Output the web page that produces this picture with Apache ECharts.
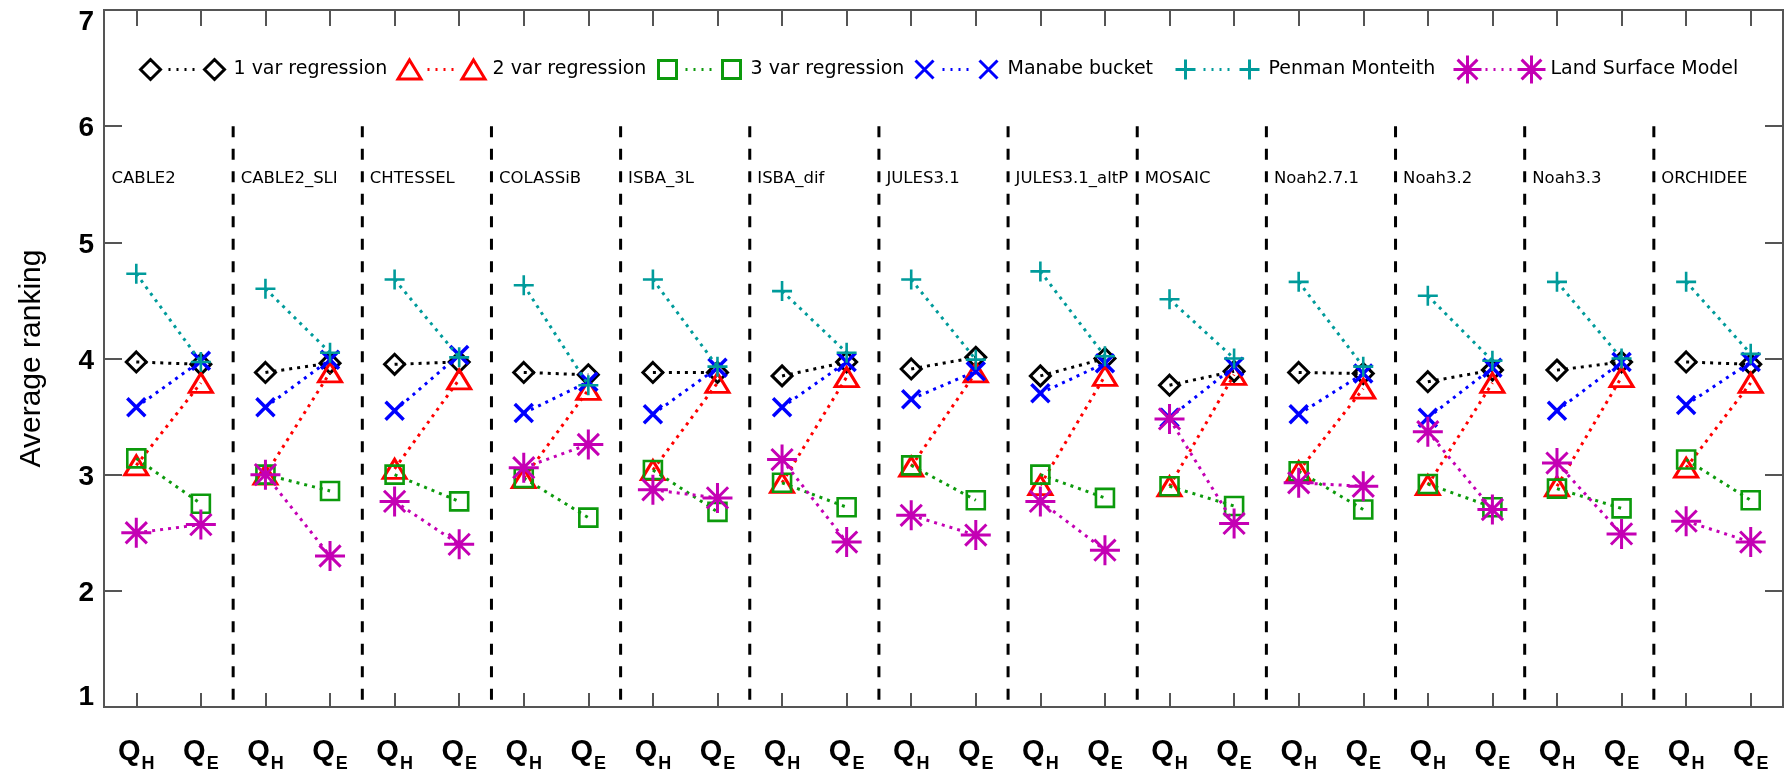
<!DOCTYPE html>
<html>
<head>
<meta charset="utf-8">
<script src="https://cdn.jsdelivr.net/npm/echarts@6/dist/echarts.min.js"></script>
<style>
  html, body { margin: 0; padding: 0; background: #ffffff; }
  #chart { width: 1785px; height: 775px; }
</style>
</head>
<body>
<div id="chart"></div>
<script>
// Land surface models compared against the empirical benchmarks
const models = ['CABLE2', 'CABLE2_SLI', 'CHTESSEL', 'COLASSiB', 'ISBA_3L', 'ISBA_dif',
  'JULES3.1', 'JULES3.1_altP', 'MOSAIC', 'Noah2.7.1', 'Noah3.2', 'Noah3.3', 'ORCHIDEE'];
// Flux subscripts: sensible heat (Q_H) and latent heat (Q_E)
const fluxes = ['H', 'E'];
const methods = ['1 var regression', '2 var regression', '3 var regression',
  'Manabe bucket', 'Penman Monteith', 'Land Surface Model'];

// Average ranking per model: [Q_H, Q_E]
const oneVar = [[3.97, 3.95], [3.88, 3.96], [3.95, 3.97], [3.88, 3.86], [3.88, 3.88], [3.85, 3.97],
  [3.91, 4.01], [3.85, 4.00], [3.77, 3.89], [3.88, 3.87], [3.80, 3.90], [3.90, 3.97], [3.97, 3.95]];
const twoVar = [[3.08, 3.79], [3.00, 3.88], [3.05, 3.82], [2.97, 3.73], [3.04, 3.79], [2.93, 3.84],
  [3.07, 3.88], [2.91, 3.85], [2.90, 3.86], [3.03, 3.74], [2.91, 3.79], [2.90, 3.84], [3.06, 3.79]];
const threeVar = [[3.14, 2.75], [3.00, 2.86], [3.00, 2.77], [2.97, 2.63], [3.04, 2.68], [2.93, 2.72],
  [3.08, 2.78], [3.00, 2.80], [2.90, 2.73], [3.03, 2.70], [2.92, 2.72], [2.88, 2.71], [3.13, 2.78]];
const manabe = [[3.58, 3.98], [3.58, 3.99], [3.55, 4.03], [3.53, 3.80], [3.52, 3.92], [3.58, 3.97],
  [3.65, 3.89], [3.70, 3.96], [3.49, 3.93], [3.52, 3.87], [3.49, 3.92], [3.55, 3.97], [3.60, 3.97]];
const penman = [[4.73, 3.97], [4.60, 4.05], [4.68, 4.01], [4.63, 3.77], [4.68, 3.93], [4.58, 4.05],
  [4.68, 3.99], [4.75, 4.02], [4.51, 4.00], [4.66, 3.93], [4.54, 3.98], [4.66, 4.00], [4.66, 4.04]];
const lsm = [[2.50, 2.57], [3.00, 2.30], [2.77, 2.40], [3.06, 3.26], [2.87, 2.80], [3.13, 2.42],
  [2.65, 2.48], [2.77, 2.35], [3.48, 2.58], [2.93, 2.90], [3.37, 2.70], [3.10, 2.49], [2.60, 2.42]];

const yMin = 1, yMax = 7, yStep = 1;
const separatorTop = 6;     // separators run from this ranking down to the axis
const modelLabelY = 5.545;  // ranking level at which model names are written

// ---- styling ----
const values = [oneVar, twoVar, threeVar, manabe, penman, lsm];
const colors = ['#000000', '#ff0000', '#0c9a0c', '#0000ff', '#009b9b', '#c400b4'];
const symbols = [
  'diamond',
  'triangle',
  'rect',
  'path://M0,0L18,18M18,0L0,18',
  'path://M0,10L20,10M10,0L10,20',
  'path://M0,14L28,14M14,0L14,28M4.1,4.1L23.9,23.9M23.9,4.1L4.1,23.9'
];
const symbolSizes = [[20, 20], [23, 19], [18, 18], [18, 18], [20, 20], [30, 30]];
const borderWidths = [3, 3, 2.6, 3.5, 2.6, 3];

// Legend icons: marker, dotted link, marker (box 92 x 28, markers centred at x=14 and x=78)
function marker(k, c) {
  switch (k) {
    case 0: return `M${c - 10},14L${c},4L${c + 10},14L${c},24Z`;
    case 1: return `M${c},4.5L${c + 11.5},23.5L${c - 11.5},23.5Z`;
    case 2: return `M${c - 9},5L${c + 9},5L${c + 9},23L${c - 9},23Z`;
    case 3: return `M${c - 9},5L${c + 9},23M${c + 9},5L${c - 9},23`;
    case 4: return `M${c - 10},14L${c + 10},14M${c},4L${c},24`;
    default: return `M${c - 14},14L${c + 14},14M${c},0L${c},28M${c - 9.9},4.1L${c + 9.9},23.9M${c + 9.9},4.1L${c - 9.9},23.9`;
  }
}
function legendIcon(k) {
  let dots = '';
  [32, 40, 48, 56].forEach(x => { dots += `M${x},14L${x + 2},14`; });
  return 'path://M0,0M92,28' + marker(k, 14) + dots + marker(k, 78);
}
const legendLefts = [135, 394, 652, 909, 1170, 1452];

const categories = [];
models.forEach(m => fluxes.forEach(f => categories.push(m + ' Q' + f)));

const FONT = '"Liberation Sans", Arial, sans-serif';
const LFONT = '"DejaVu Sans", sans-serif';
const axisGray = '#555555';

// ---- series ----
const series = [];
values.forEach((vals, k) => {
  vals.forEach((pair, i) => {
    series.push({
      type: 'line',
      name: methods[k],
      xAxisIndex: 0,
      yAxisIndex: 0,
      data: [[2 * i, pair[0]], [2 * i + 1, pair[1]]],
      symbol: symbols[k],
      symbolSize: symbolSizes[k],
      showSymbol: true,
      itemStyle: { color: 'transparent', borderColor: colors[k], borderWidth: borderWidths[k] },
      lineStyle: { color: colors[k], width: 3, type: [3, 5], cap: 'butt' },
      z: 3 + k,
      silent: true,
      emphasis: { disabled: true },
      animation: false
    });
  });
});

// Dashed model separators and model names
series.push({
  type: 'custom',
  xAxisIndex: 2,
  yAxisIndex: 0,
  z: 1,
  silent: true,
  clip: false,
  animation: false,
  data: models.map((m, i) => [i, yMin]),
  renderItem(params, api) {
    const i = params.dataIndex;
    const top = api.coord([i, separatorTop]);
    const bot = api.coord([i, yMin]);
    const lab = api.coord([i, modelLabelY]);
    const children = [];
    if (i > 0) {
      children.push({
        type: 'line',
        shape: { x1: top[0], y1: top[1], x2: bot[0], y2: bot[1] },
        style: { stroke: '#000', lineWidth: 3, lineDash: [11, 11.5] }
      });
    }
    children.push({
      type: 'text',
      x: top[0] + 7.5,
      y: lab[1],
      style: {
        text: models[i], fill: '#000', font: '16.5px ' + LFONT,
        align: 'left', verticalAlign: 'middle'
      }
    });
    return { type: 'group', children };
  }
});

const numStyle = { fontFamily: FONT, fontWeight: 'bold', fontSize: 28, color: '#000' };
const xTick = (len) => ({
  show: true, inside: true, alignWithLabel: true, interval: 0, length: len,
  lineStyle: { color: axisGray, width: 2 }
});

const option = {
  backgroundColor: '#ffffff',
  animation: false,
  grid: {
    left: 104, right: 2, top: 10, bottom: 68,
    show: true, borderColor: axisGray, borderWidth: 2,
    outerBoundsMode: 'none'
  },
  legend: methods.map((m, k) => ({
    left: legendLefts[k],
    top: 54,
    padding: 0,
    itemWidth: 92,
    itemHeight: 28,
    selectedMode: false,
    textStyle: { fontFamily: LFONT, fontSize: 19, color: '#000', padding: [0, 0, 12, 0] },
    data: [{
      name: m,
      icon: legendIcon(k),
      itemStyle: { color: 'transparent', borderColor: colors[k], borderWidth: 3 }
    }]
  })),
  xAxis: [
    {
      type: 'category',
      data: categories,
      position: 'bottom',
      boundaryGap: true,
      axisLine: { show: true, lineStyle: { color: axisGray, width: 2 } },
      axisTick: xTick(14),
      splitLine: { show: false },
      axisLabel: {
        interval: 0,
        margin: 30,
        formatter: (v, idx) => '{q|Q}{s|' + fluxes[idx % 2] + '}',
        rich: {
          q: { fontFamily: FONT, fontWeight: 'bold', fontSize: 29, lineHeight: 30, color: '#000', verticalAlign: 'top' },
          s: { fontFamily: FONT, fontWeight: 'bold', fontSize: 18, lineHeight: 18, color: '#000', verticalAlign: 'top', padding: [18, 0, 0, 1] }
        }
      }
    },
    {
      type: 'category',
      data: categories,
      position: 'top',
      boundaryGap: true,
      axisLine: { show: true, lineStyle: { color: axisGray, width: 2 } },
      axisTick: xTick(16),
      axisLabel: { show: true, interval: 0, formatter: () => '' },
      splitLine: { show: false }
    },
    {
      type: 'value',
      position: 'bottom',
      min: 0,
      max: models.length,
      show: false
    }
  ],
  yAxis: [
    {
      type: 'value',
      min: yMin, max: yMax, interval: yStep,
      position: 'left',
      name: 'Average ranking',
      nameLocation: 'middle',
      nameGap: 57,
      nameTextStyle: { fontFamily: FONT, fontSize: 30, color: '#000' },
      axisLine: { show: false },
      axisTick: { inside: true, length: 18, lineStyle: { color: axisGray, width: 2 } },
      splitLine: { show: false },
      axisLabel: {
        margin: 10,
        formatter: v => v === yMax ? '{t|' + v + '}' : (v === yMin ? '{b|' + v + '}' : '{n|' + v + '}'),
        rich: {
          t: Object.assign({ padding: [24, 0, 0, 0] }, numStyle),
          b: Object.assign({ padding: [0, 0, 20, 0] }, numStyle),
          n: Object.assign({ padding: [5, 0, 0, 0] }, numStyle)
        }
      }
    },
    {
      type: 'value',
      min: yMin, max: yMax, interval: yStep,
      position: 'right',
      axisLine: { show: false },
      axisTick: { inside: true, length: 18, lineStyle: { color: axisGray, width: 2 } },
      axisLabel: { show: false },
      splitLine: { show: false }
    }
  ],
  series
};

const chart = echarts.init(document.getElementById('chart'), null, { renderer: 'canvas' });
chart.setOption(option);
</script>
</body>
</html>
